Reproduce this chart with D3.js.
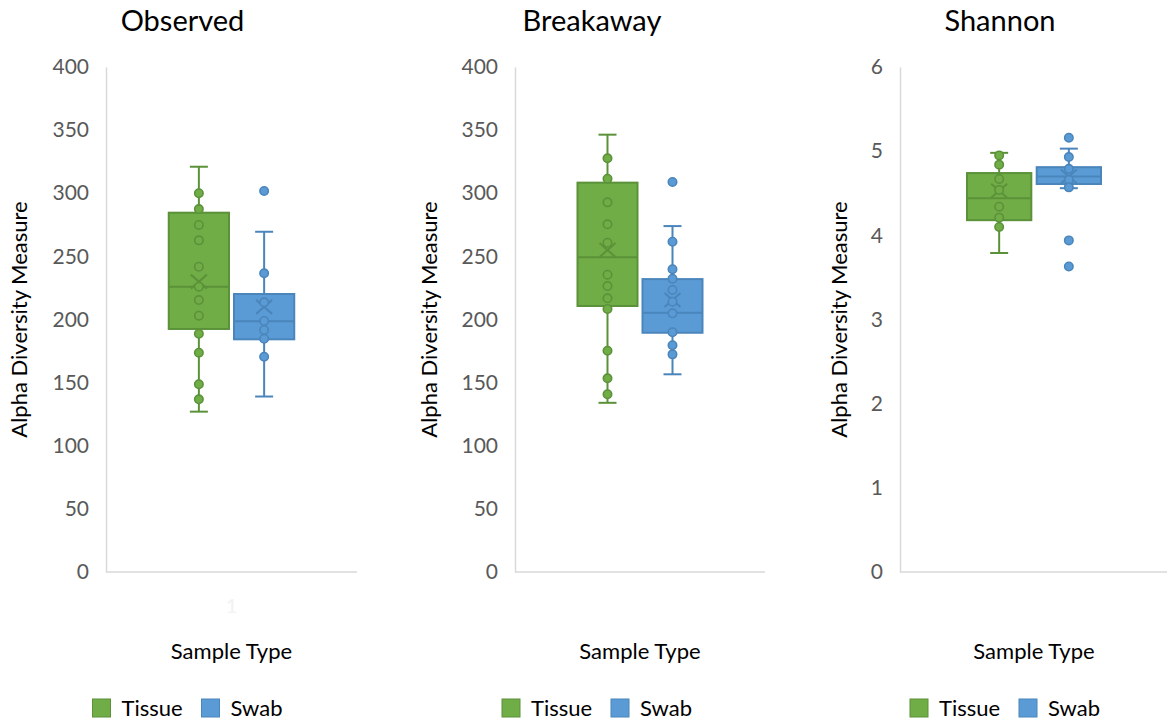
<!DOCTYPE html>
<html>
<head>
<meta charset="utf-8">
<script src="https://cdn.jsdelivr.net/npm/d3@7"></script>
<style>
  body { margin: 0; background: #fff; }
  text { font-family: Lato, "Open Sans", sans-serif; }
</style>
</head>
<body>
<div id="chart"></div>
<script>
// chart values
var metrics = ["Observed", "Breakaway", "Shannon"];
var groups = ["Tissue", "Swab"];
var yMaxes = [400, 400, 6];
var yTickSteps = [50, 50, 1];
var yTitle = "Alpha Diversity Measure";
var xTitle = "Sample Type";
var catLabel = "1";

// [whisker low, q1, median, q3, whisker high, mean]
var observedStats = { Tissue: [127, 192.5, 226, 284.6, 321, 230], Swab: [139, 184.3, 198.6, 220.2, 269.5, 210] };
var breakawayStats = { Tissue: [134, 210.7, 249.3, 308.4, 346.4, 255], Swab: [156.6, 189.5, 205.4, 232, 274, 215.4] };
var shannonStats = { Tissue: [3.79, 4.18, 4.44, 4.74, 4.98, 4.53], Swab: [4.56, 4.61, 4.70, 4.81, 5.03, 4.70] };

var observedPoints = {
  Tissue: [300, 287.5, 274.9, 262.7, 241.8, 226, 215.4, 203, 188.7, 173.7, 148.7, 136.8],
  Swab: [301.8, 236.6, 213.6, 198.8, 191.7, 184.8, 170.5]
};
var breakawayPoints = {
  Tissue: [327.7, 311.5, 292.8, 275.4, 260.8, 235.5, 226.5, 216.8, 208.3, 175.3, 153.4, 140.8],
  Swab: [308.9, 261.6, 239.8, 232.3, 223.4, 214.1, 204.9, 189.9, 179.6, 172.4]
};
var shannonPoints = {
  Tissue: [4.95, 4.84, 4.67, 4.54, 4.34, 4.21, 4.10],
  Swab: [5.16, 4.93, 4.79, 4.66, 4.57, 3.94, 3.63]
};

var allStats = [observedStats, breakawayStats, shannonStats];
var allPoints = [observedPoints, breakawayPoints, shannonPoints];

// layout of the three excel-style charts
var panels = [
  {areaX: 0,   areaW: 365, left: 106, right: 357, yTitleX: 20},
  {areaX: 409, areaW: 366, left: 515, right: 765, yTitleX: 430},
  {areaX: 818, areaW: 364, left: 900, right: 1168, yTitleX: 840}
];
var plotTop = 67, plotBottom = 572;

var fill = {Tissue: "#70ad47", Swab: "#5b9bd5"};
var edge = {Tissue: "#5b9239", Swab: "#4a85bb"};

var svg = d3.select("#chart").append("svg")
  .attr("width", 1167).attr("height", 722);

panels.forEach(function(p, i) {
  var g = svg.append("g");
  var w = p.right - p.left;
  var mid = (p.left + p.right) / 2;
  var areaMid = p.areaX + p.areaW / 2;

  var y = d3.scaleLinear().domain([0, yMaxes[i]]).range([plotBottom, plotTop]);
  var x = d3.scalePoint().domain(groups).range([mid - 0.13 * w, mid + 0.13 * w]);
  var boxW = 0.24 * w;

  // title
  g.append("text").attr("x", areaMid).attr("y", 31)
    .attr("text-anchor", "middle").style("font-size", "29px").style("fill", "#000")
    .text(metrics[i]);

  // y axis
  var yAxis = d3.axisLeft(y).tickValues(d3.range(0, yMaxes[i] + yTickSteps[i] / 2, yTickSteps[i]))
    .tickFormat(d3.format("d")).tickSize(0).tickPadding(17);
  var ya = g.append("g").attr("transform", "translate(" + p.left + ",0)").call(yAxis);
  ya.select(".domain").attr("stroke", "#d9d9d9").attr("stroke-width", 1.5);
  ya.selectAll("text").style("font-size", "21px").style("fill", "#595959")
    .style("font-family", "Lato, 'Open Sans', sans-serif");

  // x axis line
  g.append("line").attr("x1", p.left).attr("x2", p.right).attr("y1", plotBottom).attr("y2", plotBottom)
    .attr("stroke", "#d9d9d9").attr("stroke-width", 1.5);
  if (i === 0) {
    g.append("text").attr("x", mid).attr("y", 613).attr("text-anchor", "middle")
      .style("font-size", "20px").style("fill", "#f2f2f2").text(catLabel);
  }

  // axis titles
  g.append("text").attr("transform", "translate(" + (p.yTitleX + 7) + "," + ((plotTop + plotBottom) / 2) + ") rotate(-90)")
    .attr("text-anchor", "middle").style("font-size", "22px").style("fill", "#000").text(yTitle);
  g.append("text").attr("x", mid).attr("y", 659).attr("text-anchor", "middle")
    .style("font-size", "22px").style("fill", "#000").text(xTitle);

  // boxes
  groups.forEach(function(gr) {
    var s = allStats[i][gr];
    var cx = x(gr);
    var bg = g.append("g");
    bg.append("line").attr("x1", cx).attr("x2", cx).attr("y1", y(s[0])).attr("y2", y(s[1]))
      .attr("stroke", edge[gr]).attr("stroke-width", 2);
    bg.append("line").attr("x1", cx).attr("x2", cx).attr("y1", y(s[3])).attr("y2", y(s[4]))
      .attr("stroke", edge[gr]).attr("stroke-width", 2);
    [s[0], s[4]].forEach(function(v) {
      bg.append("line").attr("x1", cx - 9).attr("x2", cx + 9).attr("y1", y(v)).attr("y2", y(v))
        .attr("stroke", edge[gr]).attr("stroke-width", 2);
    });
    bg.append("rect").attr("x", cx - boxW / 2).attr("y", y(s[3]))
      .attr("width", boxW).attr("height", y(s[1]) - y(s[3]))
      .attr("fill", fill[gr]).attr("stroke", edge[gr]).attr("stroke-width", 2);
    bg.append("line").attr("x1", cx - boxW / 2).attr("x2", cx + boxW / 2)
      .attr("y1", y(s[2])).attr("y2", y(s[2])).attr("stroke", edge[gr]).attr("stroke-width", 2);
    // mean marker
    var my = y(s[5]);
    bg.append("path").attr("d", "M" + (cx - 8) + "," + (my - 7) + "L" + (cx + 8) + "," + (my + 7) +
        "M" + (cx - 8) + "," + (my + 7) + "L" + (cx + 8) + "," + (my - 7))
      .attr("stroke", edge[gr]).attr("stroke-width", 2).attr("fill", "none");
    // points
    bg.selectAll("circle").data(allPoints[i][gr]).enter().append("circle")
      .attr("cx", cx).attr("cy", function(d) { return y(d); }).attr("r", 4.2)
      .attr("fill", fill[gr]).attr("stroke", edge[gr]).attr("stroke-width", 1.6);
  });

  // legend
  var lx = areaMid - 90;
  var leg = g.append("g").attr("transform", "translate(" + lx + ",699)");
  var legX = [0, 109];
  groups.forEach(function(gr, k) {
    leg.append("rect").attr("x", legX[k]).attr("y", 0).attr("width", 18).attr("height", 18)
      .attr("fill", fill[gr]).attr("stroke", edge[gr]).attr("stroke-width", 1);
    leg.append("text").attr("x", legX[k] + 29).attr("y", 17)
      .style("font-size", "22px").style("fill", "#000").text(gr);
  });
});
</script>
</body>
</html>
